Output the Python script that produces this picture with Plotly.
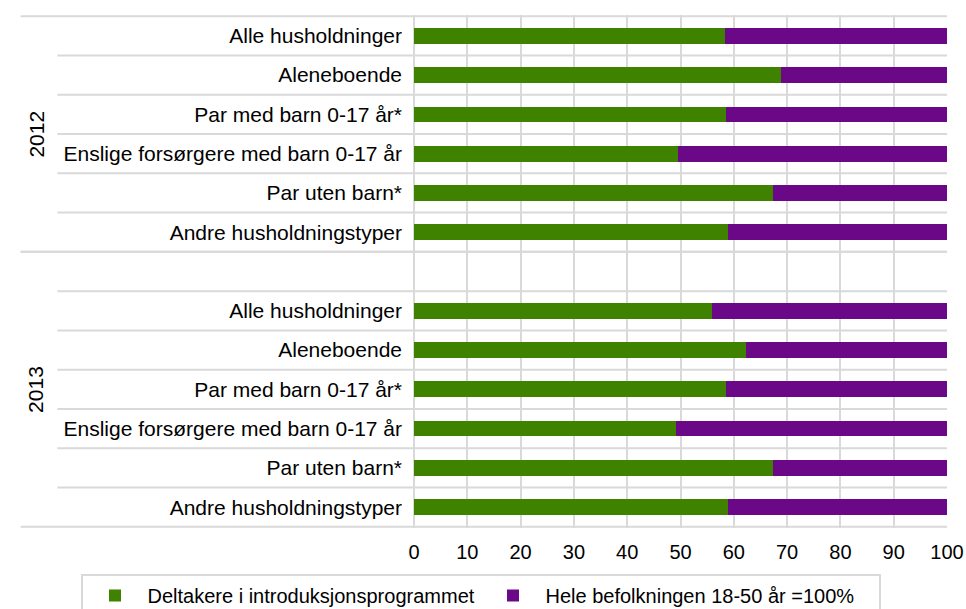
import plotly.graph_objects as go

categories = ["Alle husholdninger", "Aleneboende", "Par med barn 0-17 år*",
              "Enslige forsørgere med barn 0-17 år", "Par uten barn*",
              "Andre husholdningstyper"]
years = ["2012", "2013"]
deltakere = {
    "2012": [58.3, 68.8, 58.5, 49.6, 67.4, 58.9],
    "2013": [55.9, 62.2, 58.5, 49.1, 67.3, 58.9],
}
befolkning = {
    "2012": [41.7, 31.2, 41.5, 50.4, 32.6, 41.1],
    "2013": [44.1, 37.8, 41.5, 50.9, 32.7, 41.1],
}
series_names = ["Deltakere i introduksjonsprogrammet", "Hele befolkningen 18-50 år =100%"]

GREEN = "#3f8200"
PURPLE = "#6a0888"
GRID = "#d9d9d9"
FONT = "Liberation Sans, Arial, sans-serif"

# row positions: 2012 rows 0-5, spacer row 6 (belongs to 2013 group), 2013 rows 7-12
pos, labels, g_vals, p_vals = [], [], [], []
group_rows = {}
start = 0
for yi, yr in enumerate(years):
    rows = []
    if yi > 0:
        rows.append(start)
        start += 1
    for ci, c in enumerate(categories):
        pos.append(start + ci)
        rows.append(start + ci)
        labels.append(c)
        g_vals.append(deltakere[yr][ci])
        p_vals.append(befolkning[yr][ci])
    group_rows[yr] = rows
    start += len(categories)
n_rows = start

fig = go.Figure()
fig.add_trace(go.Bar(y=pos, x=g_vals, orientation="h", name=series_names[0],
                     marker=dict(color=GREEN, line=dict(width=0)), width=0.4))
fig.add_trace(go.Bar(y=pos, x=p_vals, orientation="h", name=series_names[1],
                     marker=dict(color=PURPLE, line=dict(width=0)), width=0.4))

line_style = dict(color=GRID, width=2)
shapes = []
for yr, rows in group_rows.items():
    lo, hi = min(rows) - 0.5, max(rows) + 0.5
    for b in [lo, hi]:
        shapes.append(dict(type="line", xref="paper", yref="y", x0=-0.738, x1=1,
                           y0=b, y1=b, line=line_style, layer="below"))
    for r in rows[:-1]:
        b = r + 0.5
        shapes.append(dict(type="line", xref="paper", yref="y", x0=-0.669, x1=1,
                           y0=b, y1=b, line=line_style, layer="below"))

annotations = []
for yr, rows in group_rows.items():
    annotations.append(dict(text=yr, xref="paper", yref="y", x=-0.71, xanchor="center",
                            y=(min(rows) + max(rows)) / 2, yanchor="middle", textangle=-90,
                            showarrow=False, font=dict(size=21, color="#000", family=FONT)))

fig.update_layout(
    width=966, height=609,
    margin=dict(l=414, r=19, t=15, b=81, autoexpand=False),
    barmode="stack",
    plot_bgcolor="white", paper_bgcolor="white",
    font=dict(family=FONT, size=21, color="#000"),
    shapes=shapes, annotations=annotations,
    showlegend=True,
    legend=dict(orientation="h", x=-0.6257, xanchor="left", y=-0.0897, yanchor="top",
                bordercolor=GRID, borderwidth=2, font=dict(size=20),
                itemwidth=55, entrywidth=328, traceorder="normal"),
)
fig.update_xaxes(range=[0, 100], dtick=10, showgrid=True, gridcolor=GRID, gridwidth=2,
                 zeroline=True, zerolinecolor=GRID, zerolinewidth=2, showline=False,
                 ticks="", ticklabelstandoff=10, tickfont=dict(size=20))
fig.update_yaxes(range=[n_rows - 0.5 + 0.03, -0.53], tickmode="array", tickvals=pos,
                 ticktext=labels, showgrid=False, zeroline=False, showline=False,
                 ticks="", ticklabelstandoff=11, tickfont=dict(size=21))

fig.write_html(
    "out.html",
    config={"displayModeBar": False},
    post_script="document.body.style.margin='0';document.documentElement.style.overflow='hidden';",
)
